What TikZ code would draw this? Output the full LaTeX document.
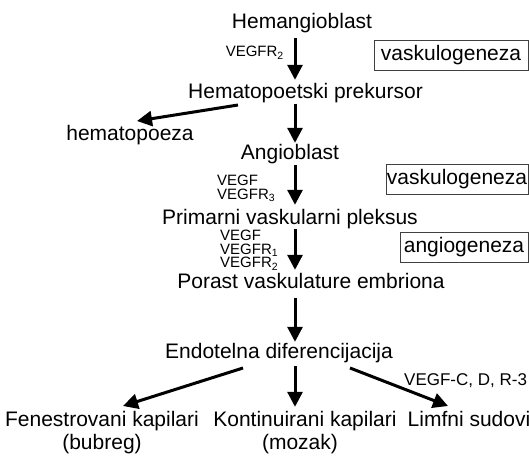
\documentclass[tikz,border=0pt]{standalone}
\usepackage{fontspec}
\setmainfont{Liberation Sans}
\usetikzlibrary{arrows.meta}
\begin{document}
\begin{tikzpicture}[x=1pt,y=-1pt,
  lbl/.style={inner sep=0pt, anchor=base, font=\fontsize{21}{25}\selectfont, text height=15pt, text depth=4.4pt},
  sm/.style={inner sep=0pt, align=left, font=\fontsize{15}{13.5}\selectfont},
  box/.style={draw=black!75, line width=0.8pt, inner sep=0pt, font=\fontsize{21}{25}\selectfont, minimum height=30pt},
  arr/.style={line width=3pt, -{Triangle[width=15pt,length=15pt]}}]
\useasboundingbox (0,0) rectangle (529,457);
% main chain
\node[lbl] (hb)  at (302,29)  {Hemangioblast};
\node[lbl] (hp)  at (305.5,99) {Hematopoetski prekursor};
\node[lbl] (hem) at (130,140) {hematopoeza};
\node[lbl] (ab)  at (290,160) {Angioblast};
\node[lbl] (pvp) at (290,224) {Primarni vaskularni pleksus};
\node[lbl] (pve) at (311,288) {Porast vaskulature embriona};
\node[lbl] (ed)  at (279,358) {Endotelna diferencijacija};
\node[lbl] (fk)  at (102,426) {Fenestrovani kapilari};
\node[lbl] (fkb) at (102,449.5) {(bubreg)};
\node[lbl] (kk)  at (305,426) {Kontinuirani kapilari};
\node[lbl] (kkb) at (300,449.5) {(mozak)};
\node[lbl] (ls)  at (469,426) {Limfni sudovi};
% small labels
\node[sm, anchor=base east] (l1) at (284,57) {VEGFR\textsubscript{2}};
\node[sm, anchor=north west] (l2) at (217,175.3) {VEGF\\VEGFR\textsubscript{3}};
\node[sm, anchor=north west] (l3) at (220,230.3) {VEGF\\VEGFR\textsubscript{1}\\VEGFR\textsubscript{2}};
\node[sm, anchor=base west, font=\fontsize{17}{19}\selectfont] (l4) at (404,385) {VEGF-C, D, R-3};
% boxes
\node[box, minimum width=154pt] (b1) at (451,55)  {vaskulogeneza};
\node[box, minimum width=142pt] (b2) at (457,179) {vaskulogeneza};
\node[box, minimum width=128pt] (b3) at (464,247) {angiogeneza};
% arrows
\coordinate (ax) at (295,0);
\draw[arr, shorten <=4.6pt, shorten >=4pt] (hb.south -| ax) -- (hp.north -| ax);
\draw[arr, shorten >=2pt] (hp.south -| ax) -- (ab.north -| ax);
\draw[arr, shorten <=0.6pt, shorten >=4pt] (ab.south -| ax) -- (pvp.north -| ax);
\draw[arr, shorten <=0.6pt, shorten >=3pt] (pvp.south -| ax) -- (pve.north -| ax);
\draw[arr, shorten <=5.6pt, shorten >=1pt] (pve.south -| ax) -- (ed.north -| ax);
\draw[arr, shorten <=3.6pt, shorten >=4pt] (ed.south -| ax) -- (kk.north -| ax);
\draw[arr] ([shift={(-67.5,6)}]hp.base) -- ([shift={(7,-19)}]hem.base);
\draw[arr] ([shift={(-36,10)}]ed.base) -- ([shift={(21,-20)}]fk.base);
\draw[arr] ([shift={(71,10)}]ed.base) -- ([shift={(-21,-20)}]ls.base);
\end{tikzpicture}
\end{document}
